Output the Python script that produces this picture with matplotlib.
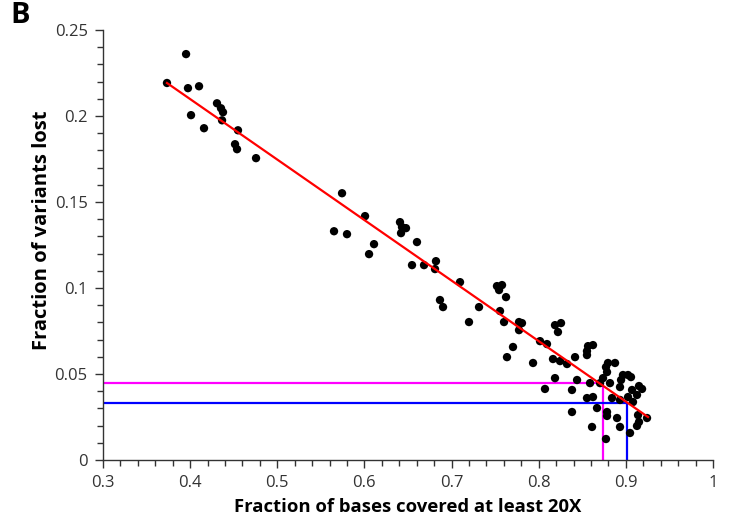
import matplotlib
matplotlib.use("Agg")
import matplotlib.pyplot as plt
from matplotlib.ticker import MultipleLocator, FuncFormatter

plt.rcParams['font.family'] = ['Open Sans', 'DejaVu Sans']

# fraction of bases covered at least 20X (per sample)
coverage = [0.3734, 0.3953, 0.3975, 0.4102, 0.4010, 0.4159, 0.4308, 0.4354, 0.4377, 0.4366,
            0.4549, 0.4515, 0.4538, 0.4756,
            0.5743, 0.6007, 0.5651, 0.5800, 0.6110, 0.6053, 0.6408, 0.6431, 0.6477, 0.6420,
            0.6603, 0.6546, 0.6684, 0.6821, 0.6810, 0.7097, 0.6867, 0.6902, 0.7315, 0.7200,
            0.7521, 0.7579, 0.7545, 0.7625, 0.7556, 0.7602, 0.7774, 0.7808, 0.7774, 0.7705,
            0.7636, 0.7935, 0.8015, 0.8095, 0.8187, 0.8256, 0.8221, 0.8164, 0.8245, 0.8325,
            0.8072, 0.8187, 0.8382, 0.8440, 0.8382, 0.8566, 0.8623, 0.8554, 0.8554, 0.8417,
            0.8589, 0.8554, 0.8623, 0.8669, 0.8612, 0.8795, 0.8876, 0.8772, 0.8784, 0.8738,
            0.8704, 0.8818, 0.8967, 0.9025, 0.8945, 0.9059, 0.9151, 0.9186, 0.9071, 0.8933,
            0.8841, 0.8933, 0.9025, 0.9082, 0.9128, 0.8784, 0.8784, 0.8899, 0.8933, 0.9140,
            0.9151, 0.9128, 0.9243, 0.9048, 0.8772]

# fraction of variants lost (per sample)
lost = [0.2192, 0.2360, 0.2162, 0.2173, 0.2005, 0.1929, 0.2074, 0.2045, 0.2022, 0.1975,
        0.1917, 0.1836, 0.1807, 0.1755,
        0.1551, 0.1418, 0.1330, 0.1313, 0.1255, 0.1197, 0.1383, 0.1354, 0.1348, 0.1319,
        0.1267, 0.1133, 0.1133, 0.1156, 0.1110, 0.1034, 0.0930, 0.0889, 0.0889, 0.0802,
        0.1011, 0.1017, 0.0988, 0.0947, 0.0866, 0.0802, 0.0802, 0.0796, 0.0755, 0.0657,
        0.0598, 0.0564, 0.0691, 0.0674, 0.0784, 0.0796, 0.0744, 0.0587, 0.0575, 0.0558,
        0.0413, 0.0476, 0.0407, 0.0465, 0.0279, 0.0662, 0.0668, 0.0633, 0.0610, 0.0598,
        0.0447, 0.0360, 0.0366, 0.0302, 0.0192, 0.0564, 0.0564, 0.0540, 0.0511, 0.0476,
        0.0447, 0.0447, 0.0494, 0.0494, 0.0465, 0.0482, 0.0430, 0.0413, 0.0407, 0.0424,
        0.0360, 0.0349, 0.0366, 0.0337, 0.0378, 0.0279, 0.0256, 0.0244, 0.0192, 0.0261,
        0.0221, 0.0198, 0.0244, 0.0157, 0.0122]

# regression line end points
fit_x = [0.3734, 0.9254]
fit_y = [0.2192, 0.0250]

# threshold guides
magenta_x, magenta_y = 0.8735, 0.0448
blue_x, blue_y = 0.9010, 0.0331

fig = plt.figure(figsize=(7.39, 5.22), dpi=100)
ax = fig.add_axes([0.1394, 0.1188, 0.8254, 0.8237])

ax.plot([0.3, magenta_x, magenta_x], [magenta_y, magenta_y, 0], color='#ff00ff', lw=1.6, zorder=2)
ax.plot([0.3, blue_x, blue_x], [blue_y, blue_y, 0], color='#0000ff', lw=1.6, zorder=2)
ax.scatter(coverage, lost, s=36, color='black', edgecolors='none', zorder=3)
ax.plot(fit_x, fit_y, color='red', lw=1.6, zorder=4)

ax.set_xlim(0.3, 1.0)
ax.set_ylim(0, 0.25)
ax.xaxis.set_major_locator(MultipleLocator(0.1))
ax.xaxis.set_minor_locator(MultipleLocator(0.02))
ax.yaxis.set_major_locator(MultipleLocator(0.05))
ax.yaxis.set_minor_locator(MultipleLocator(0.01))
fmt = FuncFormatter(lambda v, p: '%g' % round(v, 3))
ax.xaxis.set_major_formatter(fmt)
ax.yaxis.set_major_formatter(fmt)

for s in ['top', 'right']:
    ax.spines[s].set_visible(False)
for s in ['left', 'bottom']:
    ax.spines[s].set_color('#333333')
    ax.spines[s].set_linewidth(1.0)
ax.tick_params(which='major', length=6, width=1, color='#333333', labelsize=12, labelcolor='#333333', pad=5)
ax.tick_params(which='minor', length=4, width=1, color='#333333')

ax.set_xlabel('Fraction of bases covered at least 20X', fontsize=13.3, fontweight='bold', labelpad=5)
ax.set_ylabel('Fraction of variants lost', fontsize=14.5, fontweight='bold', va='center')
ax.yaxis.set_label_coords(-0.1, 0.535)

fig.text(0.014, 0.942, 'B', fontsize=21, fontweight='bold', va='bottom', ha='left')

fig.savefig('out.png', dpi=100)
